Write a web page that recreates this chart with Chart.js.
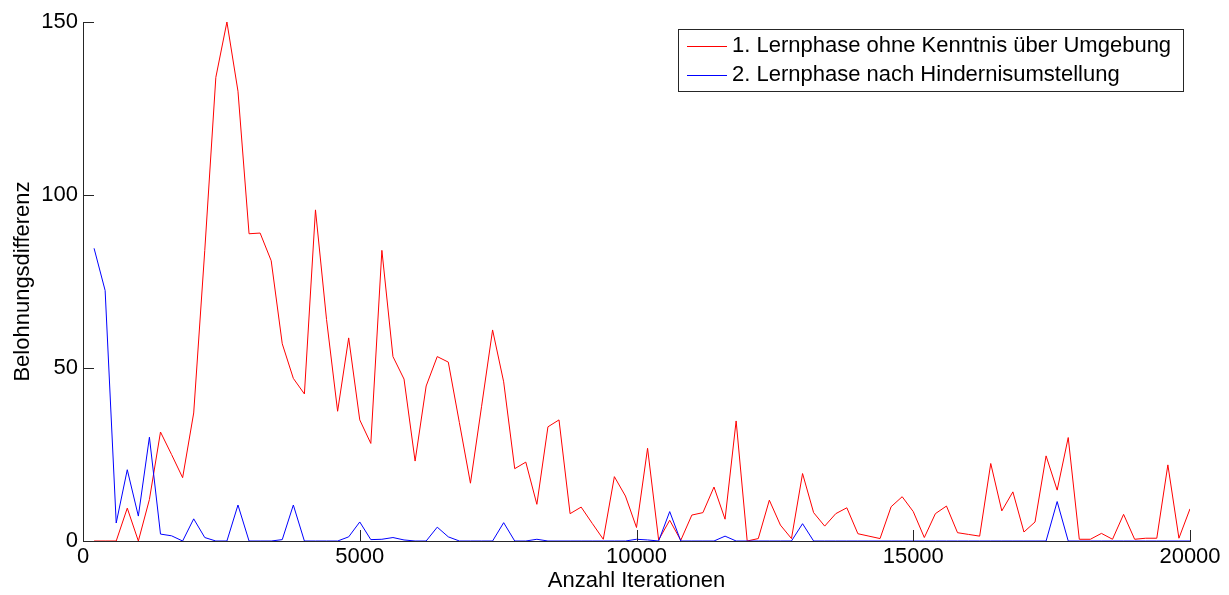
<!DOCTYPE html>
<html lang="de">
<head>
<meta charset="utf-8">
<title>Belohnungsdifferenz</title>
<script src="https://cdn.jsdelivr.net/npm/chart.js@4/dist/chart.umd.min.js"></script>
<style>
    html, body { margin: 0; padding: 0; background: #fff; }
    #chart { display: block; }
</style>
</head>
<body>
<canvas id="chart" width="1229" height="595"></canvas>
<script>
// --- DATA --- //
const STEP = 200; // one value every 200 iterations

const seriesLabels = [
    '1. Lernphase ohne Kenntnis über Umgebung',
    '2. Lernphase nach Hindernisumstellung'
];

const phase1 = [
    0, 0, 0, 9.5, 0, 12, 31.5, 25, 18.3, 37,
    84, 134, 150, 130, 88.8, 89, 81, 57, 47, 42.5,
    95.7, 64, 37.5, 58.7, 35, 28.2, 84, 53.3, 46.8, 23.1,
    44.8, 53.3, 51.7, 34.2, 16.7, 38.8, 61, 46, 20.9, 22.8,
    10.6, 33, 35, 7.9, 9.8, 5.1, 0.5, 18.6, 13, 3.9,
    26.8, 0.3, 6, 0.2, 7.5, 8.2, 15.6, 6.3, 34.7, 0,
    0.7, 11.8, 4.6, 0.7, 19.5, 8.2, 4.3, 7.9, 9.6, 2.1,
    1.4, 0.7, 9.9, 12.8, 8.5, 1, 7.9, 10.1, 2.4, 1.9,
    1.4, 22.4, 8.7, 14.2, 2.6, 5.5, 24.6, 14.7, 29.9, 0.5,
    0.5, 2.2, 0.5, 7.7, 0.5, 0.8, 0.8, 22, 0.8, 9.3
];

const phase2 = [
    84.6, 72.4, 5.2, 20.6, 7.2, 30, 2, 1.5, 0, 6.4,
    1, 0, 0, 10.4, 0, 0, 0, 0.4, 10.4, 0,
    0, 0, 0, 1.2, 5.5, 0.4, 0.5, 1, 0.3, 0,
    0, 4, 1.2, 0, 0, 0, 0, 5.3, 0, 0,
    0.5, 0, 0, 0, 0, 0, 0, 0, 0, 0.5,
    0.3, 0, 8.5, 0, 0, 0, 0, 1.4, 0, 0,
    0, 0, 0, 0, 5, 0, 0, 0, 0, 0,
    0, 0, 0, 0, 0, 0, 0, 0, 0, 0,
    0, 0, 0, 0, 0, 0, 0, 11.4, 0, 0,
    0, 0, 0, 0, 0, 0, 0, 0, 0, 0
];

const iterations = phase1.map((_, i) => (i + 1) * STEP);
const xTicks = [0, 5000, 10000, 15000, 20000];
const yTicks = [0, 50, 100, 150];

document.addEventListener('DOMContentLoaded', () => {
    const FONT = '"Liberation Sans", Arial, sans-serif';
    const AXIS_COLOR = '#262626';
    const colors = ['#ff0000', '#0000ff'];

    // matlab style ticks, pointing into the plot
    const innerTicks = {
        id: 'innerTicks',
        afterDraw(chart) {
            const { ctx, chartArea, scales } = chart;
            const len = 11;
            ctx.save();
            ctx.strokeStyle = AXIS_COLOR;
            ctx.lineWidth = 1;
            ctx.beginPath();
            xTicks.forEach(v => {
                const x = Math.round(scales.x.getPixelForValue(v)) + 0.5;
                ctx.moveTo(x, chartArea.bottom);
                ctx.lineTo(x, chartArea.bottom - len);
            });
            yTicks.forEach(v => {
                const y = Math.round(scales.y.getPixelForValue(v)) + 0.5;
                ctx.moveTo(chartArea.left, y);
                ctx.lineTo(chartArea.left + len, y);
            });
            ctx.stroke();
            ctx.restore();
        }
    };

    // boxed legend in the upper right corner
    const boxLegend = {
        id: 'boxLegend',
        afterDraw(chart) {
            const { ctx, chartArea } = chart;
            const w = 505, h = 62, rowH = 29;
            const left = chartArea.right - 7 - w;
            const top = chartArea.top + 7;
            ctx.save();
            ctx.fillStyle = '#fff';
            ctx.fillRect(left, top, w, h);
            ctx.strokeStyle = AXIS_COLOR;
            ctx.lineWidth = 1;
            ctx.strokeRect(Math.round(left) + 0.5, Math.round(top) + 0.5, w, h);
            ctx.font = '22px ' + FONT;
            ctx.textBaseline = 'middle';
            ctx.textAlign = 'left';
            seriesLabels.forEach((label, i) => {
                const y = top + 17 + i * rowH;
                ctx.strokeStyle = colors[i];
                ctx.beginPath();
                ctx.moveTo(left + 9, Math.round(y) + 0.5);
                ctx.lineTo(left + 49, Math.round(y) + 0.5);
                ctx.stroke();
                ctx.fillStyle = '#000';
                ctx.fillText(label, left + 54, y);
            });
            ctx.restore();
        }
    };

    const makeData = values => values.map((v, i) => ({ x: iterations[i], y: v }));

    new Chart(document.getElementById('chart'), {
        type: 'line',
        data: {
            datasets: [
                {
                    label: seriesLabels[0],
                    data: makeData(phase1),
                    borderColor: colors[0],
                    borderWidth: 1,
                    pointRadius: 0,
                    tension: 0,
                    order: 1
                },
                {
                    label: seriesLabels[1],
                    data: makeData(phase2),
                    borderColor: colors[1],
                    borderWidth: 1,
                    pointRadius: 0,
                    tension: 0,
                    order: 0
                }
            ]
        },
        options: {
            responsive: false,
            animation: false,
            layout: { padding: { top: 22, right: 39, left: 0, bottom: 0 } },
            plugins: {
                legend: { display: false },
                tooltip: { enabled: false }
            },
            scales: {
                x: {
                    type: 'linear',
                    min: 0,
                    max: 20000,
                    afterBuildTicks: scale => { scale.ticks = xTicks.map(v => ({ value: v })); },
                    afterFit: scale => { scale.height = 54; },
                    grid: { display: false, drawTicks: false },
                    border: { display: true, color: AXIS_COLOR, width: 1 },
                    ticks: {
                        color: '#000',
                        font: { family: FONT, size: 22 },
                        padding: 3,
                        maxRotation: 0,
                        callback: v => String(v)
                    },
                    title: {
                        display: true,
                        text: 'Anzahl Iterationen',
                        color: '#000',
                        font: { family: FONT, size: 22 },
                        padding: { top: 0, bottom: 1 }
                    }
                },
                y: {
                    min: 0,
                    max: 150,
                    afterBuildTicks: scale => { scale.ticks = yTicks.map(v => ({ value: v })); },
                    afterFit: scale => { scale.width = 83; },
                    grid: { display: false, drawTicks: false },
                    border: { display: true, color: AXIS_COLOR, width: 1 },
                    ticks: {
                        color: '#000',
                        font: { family: FONT, size: 22 },
                        padding: 5
                    },
                    title: {
                        display: true,
                        text: 'Belohnungsdifferenz',
                        color: '#000',
                        font: { family: FONT, size: 22 },
                        padding: { top: 10, bottom: 0 }
                    }
                }
            }
        },
        plugins: [innerTicks, boxLegend]
    });
});
</script>
</body>
</html>
